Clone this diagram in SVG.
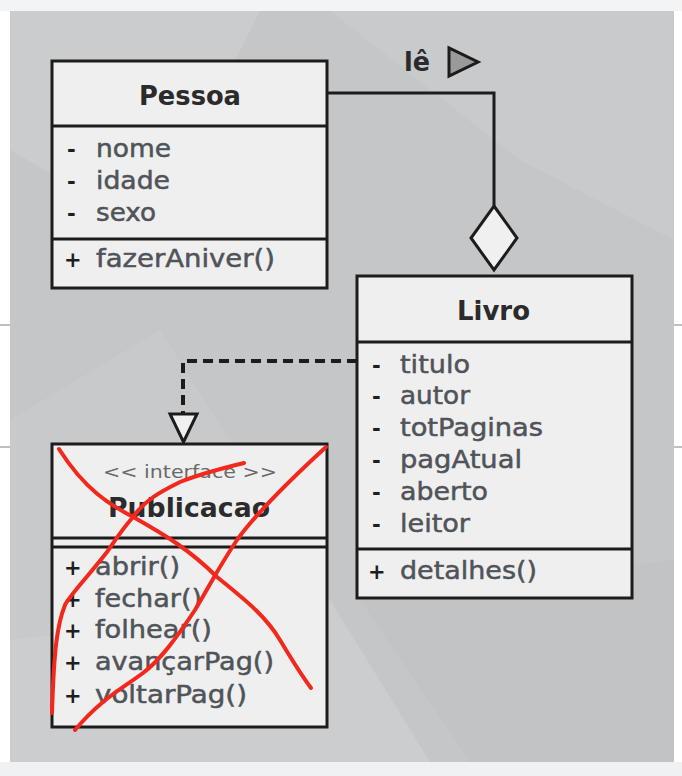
<svg xmlns="http://www.w3.org/2000/svg" width="682" height="776" viewBox="0 0 682 776">
<style>
.box{fill:#efefef;stroke:#1c1c1c;stroke-width:3}
.div{stroke:#1c1c1c;stroke-width:3}
.title{font-family:"DejaVu Sans",sans-serif;font-weight:bold;font-size:26px;fill:#2b2b2b}
.mem{font-family:"DejaVu Sans",sans-serif;font-size:24px;fill:#505459;stroke:#505459;stroke-width:0.5}
.sym{font-family:"DejaVu Sans",sans-serif;font-weight:bold;font-size:21px;fill:#1e1e1e}
.ster{font-family:"DejaVu Sans",sans-serif;font-size:18px;fill:#6a6a6a}
.red{fill:none;stroke:#f3281c;stroke-width:4;stroke-linecap:round;stroke-linejoin:round}
</style>
<rect width="682" height="776" fill="#ffffff"/>
<rect x="0" y="0" width="682" height="11" fill="#f3f4f5"/>
<rect x="0" y="762" width="682" height="14" fill="#f0f1f2"/>
<g id="background">
<rect x="10" y="11" width="664" height="751" fill="#c5c6c8"/>
<polygon points="10,11 260,11 150,230 10,150" fill="#cbcccd"/>
<polygon points="330,11 674,11 674,240 520,160" fill="#c9cacc"/>
<polygon points="10,420 160,330 330,600 10,640" fill="#c8c9cb"/>
<polygon points="360,600 674,560 674,762 470,762" fill="#c2c3c5"/>
<polygon points="10,640 330,600 430,762 10,762" fill="#cccdce"/>
<line x1="0" y1="325" x2="10" y2="325" stroke="#c0c0c0" stroke-width="2"/>
<line x1="0" y1="447" x2="10" y2="447" stroke="#c0c0c0" stroke-width="2"/>
<line x1="674" y1="325" x2="682" y2="325" stroke="#c0c0c0" stroke-width="2"/>
<line x1="674" y1="447" x2="682" y2="447" stroke="#c0c0c0" stroke-width="2"/>
</g>
<g id="connectors">
<polyline points="327,93 494,93 494,206" fill="none" stroke="#1c1c1c" stroke-width="3"/>
<polygon points="494,206 517,238 494,270 471,238" fill="#f0f0f0" stroke="#1c1c1c" stroke-width="3"/>
<polyline points="357,361 183,361 183,414" fill="none" stroke="#1c1c1c" stroke-width="4" stroke-dasharray="10,6"/>
<polygon points="170,414 197,414 183.5,442" fill="#f0f0f0" stroke="#1c1c1c" stroke-width="3"/>
<text x="404" y="71" class="title" textLength="26" lengthAdjust="spacingAndGlyphs">lê</text>
<polygon points="449,48 449,76 478,62" fill="#9a9a9a" stroke="#1c1c1c" stroke-width="3" stroke-linejoin="miter"/>
</g>
<g id="Pessoa">
<rect class="box" x="52" y="61" width="275" height="227"/>
<line class="div" x1="52" y1="126" x2="327" y2="126"/>
<line class="div" x1="52" y1="239" x2="327" y2="239"/>
<text class="title" x="139" y="105" textLength="102" lengthAdjust="spacingAndGlyphs">Pessoa</text>
<text class="sym" x="67" y="157">-</text><text class="mem" x="96" y="157" textLength="75" lengthAdjust="spacingAndGlyphs">nome</text>
<text class="sym" x="67" y="189">-</text><text class="mem" x="96" y="189" textLength="74" lengthAdjust="spacingAndGlyphs">idade</text>
<text class="sym" x="67" y="221">-</text><text class="mem" x="96" y="221" textLength="60" lengthAdjust="spacingAndGlyphs">sexo</text>
<text class="sym" x="64" y="267">+</text><text class="mem" x="96" y="267" textLength="179" lengthAdjust="spacingAndGlyphs">fazerAniver()</text>
</g>
<g id="Livro">
<rect class="box" x="357" y="276" width="275" height="322"/>
<line class="div" x1="357" y1="342" x2="632" y2="342"/>
<line class="div" x1="357" y1="549" x2="632" y2="549"/>
<text class="title" x="457" y="320" textLength="73" lengthAdjust="spacingAndGlyphs">Livro</text>
<text class="sym" x="372" y="373">-</text><text class="mem" x="400" y="373" textLength="70" lengthAdjust="spacingAndGlyphs">titulo</text>
<text class="sym" x="372" y="404">-</text><text class="mem" x="400" y="404" textLength="70" lengthAdjust="spacingAndGlyphs">autor</text>
<text class="sym" x="372" y="436">-</text><text class="mem" x="400" y="436" textLength="143" lengthAdjust="spacingAndGlyphs">totPaginas</text>
<text class="sym" x="372" y="468">-</text><text class="mem" x="400" y="468" textLength="122" lengthAdjust="spacingAndGlyphs">pagAtual</text>
<text class="sym" x="372" y="500">-</text><text class="mem" x="400" y="500" textLength="88" lengthAdjust="spacingAndGlyphs">aberto</text>
<text class="sym" x="372" y="532">-</text><text class="mem" x="400" y="532" textLength="70" lengthAdjust="spacingAndGlyphs">leitor</text>
<text class="sym" x="368" y="579">+</text><text class="mem" x="400" y="579" textLength="137" lengthAdjust="spacingAndGlyphs">detalhes()</text>
</g>
<g id="Publicacao">
<rect class="box" x="52" y="444" width="275" height="283"/>
<line class="div" x1="52" y1="538" x2="327" y2="538"/>
<line class="div" x1="52" y1="547" x2="327" y2="547"/>
<text class="ster" x="103" y="478" textLength="174" lengthAdjust="spacingAndGlyphs">&lt;&lt; interface &gt;&gt;</text>
<text class="title" x="108" y="517" textLength="162" lengthAdjust="spacingAndGlyphs">Publicacao</text>
<text class="sym" x="64" y="575">+</text><text class="mem" x="95" y="575" textLength="85" lengthAdjust="spacingAndGlyphs">abrir()</text>
<text class="sym" x="64" y="607">+</text><text class="mem" x="95" y="607" textLength="107" lengthAdjust="spacingAndGlyphs">fechar()</text>
<text class="sym" x="64" y="638">+</text><text class="mem" x="95" y="638" textLength="117" lengthAdjust="spacingAndGlyphs">folhear()</text>
<text class="sym" x="64" y="670">+</text><text class="mem" x="95" y="670" textLength="179" lengthAdjust="spacingAndGlyphs">avançarPag()</text>
<text class="sym" x="64" y="703">+</text><text class="mem" x="95" y="703" textLength="152" lengthAdjust="spacingAndGlyphs">voltarPag()</text>
</g>
<g id="red-cross">
<path class="red" d="M59,449 C85,490 110,505 135,518 C165,535 190,550 217,577 C245,600 265,615 280,640 C295,665 305,680 311,688"/>
<path class="red" d="M326,447 C290,480 255,515 237,540 C220,565 210,585 195,610 C175,640 160,660 143,673 C120,690 100,700 75,730"/>
<path class="red" d="M244,463 C215,470 195,476 180,482 C160,492 145,500 133,517 C120,532 112,545 107,552 C85,580 70,595 65,605 C57,625 54,650 52,713"/>
</g>
</svg>
